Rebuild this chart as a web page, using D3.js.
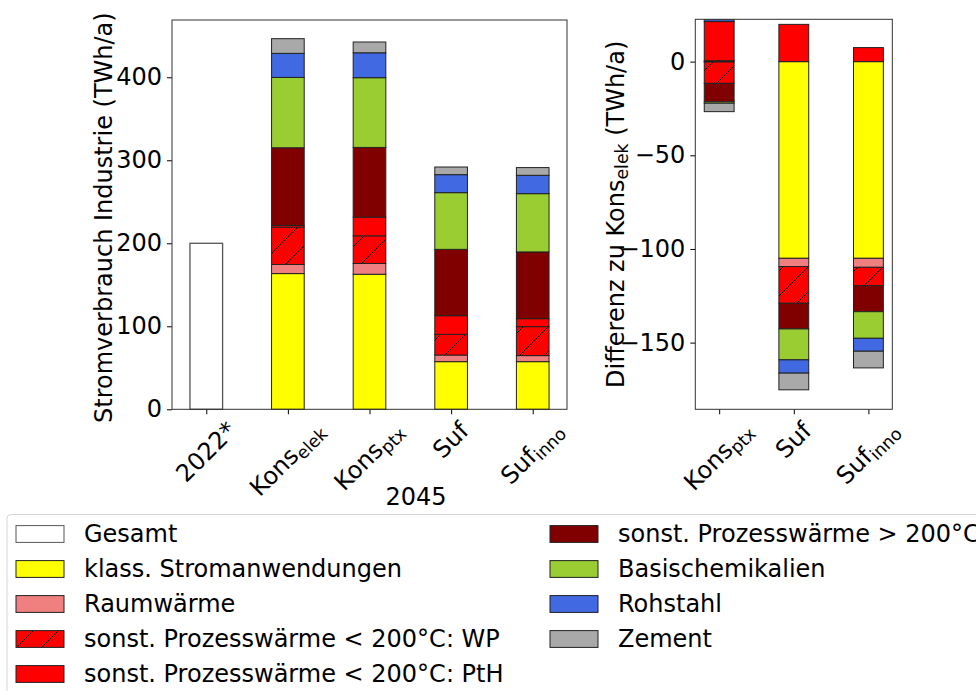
<!DOCTYPE html>
<html>
<head>
<meta charset="utf-8">
<script src="https://cdn.jsdelivr.net/npm/d3@7"></script>
<style>
  body { margin: 0; background: #fff; }
  text { font-family: "DejaVu Sans", sans-serif; fill: #000; }
</style>
</head>
<body>
<svg id="chart" width="976" height="691"></svg>
<script>
// categories (stack order, bottom to top)
const segments = ["klass", "raum", "wp", "pth", "gt200", "chem", "stahl", "zement"];
const segmentNames = [
  "klass. Stromanwendungen",
  "Raumwärme",
  "sonst. Prozesswärme < 200°C: WP",
  "sonst. Prozesswärme < 200°C: PtH",
  "sonst. Prozesswärme > 200°C",
  "Basischemikalien",
  "Rohstahl",
  "Zement"
];
const segmentColors = ["#ffff00", "#f08080", "#ff0000", "#ff0000", "#800000", "#9acd32", "#4169e1", "#a9a9a9"];

// scenarios 2045
const scenarios = [
  {main: "Kons", sub: "elek"},
  {main: "Kons", sub: "ptx"},
  {main: "Suf", sub: null},
  {main: "Suf", sub: "inno"}
];
const gesamt2022 = 200;

// TWh/a per scenario (Kons_elek, Kons_ptx, Suf, Suf_inno)
const klass  = [163.5, 162.7, 57.4, 57.4];
const raum   = [11.0, 13.0, 8.0, 7.3];
const wp     = [45.0, 33.3, 24.9, 34.9];
const pth    = [2.0, 22.5, 22.5, 9.6];
const gt200  = [93.6, 84.0, 79.9, 80.4];
const chem   = [84.7, 84.0, 68.3, 70.2];
const stahl  = [29.0, 30.0, 21.7, 22.1];
const zement = [17.7, 13.0, 9.2, 9.3];

// difference to Kons_elek (Kons_ptx, Suf, Suf_inno)
const diffScenarios = [scenarios[1], scenarios[2], scenarios[3]];
const dKlass  = [-0.2, -105.0, -105.0];
const dRaum   = [0.5, -4.4, -4.8];
const dWp     = [-11.4, -19.6, -9.8];
const dPth    = [20.9, 19.9, 7.5];
const dGt200  = [-9.8, -13.7, -13.9];
const dChem   = [-0.8, -16.5, -14.2];
const dStahl  = [1.0, -7.1, -6.9];
const dZement = [-4.5, -8.9, -8.9];

const leftTicks = [0, 100, 200, 300, 400];
const rightTicks = [0, -50, -100, -150];

const FS = 24;
const svg = d3.select("#chart");
const color = d3.scaleOrdinal().domain(segments).range(segmentColors);
const fillOf = k => k === "wp" ? "url(#hatch)" : color(k);

const defs = svg.append("defs");
const pat = defs.append("pattern")
  .attr("id", "hatch")
  .attr("patternUnits", "userSpaceOnUse")
  .attr("width", 25).attr("height", 25);
pat.append("rect").attr("width", 25).attr("height", 25).attr("fill", "#ff0000");
pat.append("path")
  .attr("d", "M-5,5L5,-5M0,25L25,0M20,30L30,20")
  .attr("stroke", "#000").attr("stroke-width", 1);

// helper for labels with subscript
function labelText(sel, lab, size) {
  const t = sel.append("text").attr("font-size", size);
  t.append("tspan").text(lab.main);
  if (lab.sub) {
    t.append("tspan").attr("font-size", size * 0.72).attr("dy", size * 0.18).text(lab.sub);
  }
  return t;
}

function rotatedLabel(g, x, top, lab) {
  const gg = g.append("g");
  const t = labelText(gg, lab, FS);
  const bb = t.node().getBBox();
  t.attr("transform", `translate(${-bb.x - bb.width / 2},${-bb.y - bb.height / 2})`);
  const h = (bb.width + bb.height) / Math.SQRT2;
  gg.attr("transform", `translate(${x},${top + h / 2}) rotate(-45)`);
}

// ---------- left panel ----------
const L = {x0: 172, x1: 567, y0: 20, y1: 409.3};
const xL = d3.scaleLinear().domain([-0.42, 4.42]).range([L.x0, L.x1]);
const yL = d3.scaleLinear().domain([0, 469]).range([L.y1, L.y0]);

const rowsL = scenarios.map((s, i) => ({
  idx: i + 1,
  klass: klass[i], raum: raum[i], wp: wp[i], pth: pth[i],
  gt200: gt200[i], chem: chem[i], stahl: stahl[i], zement: zement[i]
}));
const stackL = d3.stack().keys(segments)(rowsL);

const gL = svg.append("g");
gL.append("rect")
  .attr("x", xL(-0.2)).attr("width", xL(0.2) - xL(-0.2))
  .attr("y", yL(gesamt2022)).attr("height", yL(0) - yL(gesamt2022))
  .attr("fill", "#fff").attr("stroke", "#555").attr("stroke-width", 1.3);

gL.selectAll("g.layer")
  .data(stackL)
  .join("g")
  .attr("class", "layer")
  .attr("fill", d => fillOf(d.key))
  .selectAll("rect")
  .data(d => d)
  .join("rect")
    .attr("x", d => xL(d.data.idx - 0.2))
    .attr("width", d => xL(d.data.idx + 0.2) - xL(d.data.idx - 0.2))
    .attr("y", d => yL(d[1]))
    .attr("height", d => yL(d[0]) - yL(d[1]))
    .attr("stroke", "#222").attr("stroke-width", 1);

const axL = gL.append("g")
  .attr("transform", `translate(${L.x0},0)`)
  .call(d3.axisLeft(yL).tickValues(leftTicks).tickSize(5).tickPadding(5));
axL.select(".domain").remove();
axL.selectAll("text").attr("font-size", FS).attr("font-family", "DejaVu Sans").attr("fill", "#000");

const axLb = gL.append("g")
  .attr("transform", `translate(0,${L.y1})`)
  .call(d3.axisBottom(xL).tickValues([0, 1, 2, 3, 4]).tickSize(5).tickFormat(""));
axLb.select(".domain").remove();

gL.append("rect")
  .attr("x", L.x0).attr("y", L.y0)
  .attr("width", L.x1 - L.x0).attr("height", L.y1 - L.y0)
  .attr("fill", "none").attr("stroke", "#333").attr("stroke-width", 1);

const leftLabels = [{main: "2022*", sub: null}].concat(scenarios);
leftLabels.forEach((lab, i) => rotatedLabel(gL, xL(i), L.y1 + 7, lab));

gL.append("text")
  .attr("x", 416).attr("y", 505)
  .attr("text-anchor", "middle").attr("font-size", FS)
  .text("2045");

gL.append("text")
  .attr("transform", `translate(112,${(L.y0 + L.y1) / 2 + 3}) rotate(-90)`)
  .attr("text-anchor", "middle").attr("font-size", FS)
  .text("Stromverbrauch Industrie (TWh/a)");

// ---------- right panel ----------
const R = {x0: 695.3, x1: 892.3, y0: 19.3, y1: 409.3};
const xR = d3.scaleLinear().domain([-0.32, 2.32]).range([R.x0, R.x1]);
const yR = d3.scaleLinear().domain([-185.6, 22.6]).range([R.y1, R.y0]);

const rowsR = diffScenarios.map((s, i) => ({
  idx: i,
  klass: dKlass[i], raum: dRaum[i], wp: dWp[i], pth: dPth[i],
  gt200: dGt200[i], chem: dChem[i], stahl: dStahl[i], zement: dZement[i]
}));
const stackR = d3.stack().keys(segments).offset(d3.stackOffsetDiverging)(rowsR);

defs.append("clipPath").attr("id", "clipR")
  .append("rect")
  .attr("x", R.x0).attr("y", R.y0)
  .attr("width", R.x1 - R.x0).attr("height", R.y1 - R.y0);

const gR = svg.append("g");
gR.append("g")
  .attr("clip-path", "url(#clipR)")
  .selectAll("g.layer")
  .data(stackR)
  .join("g")
  .attr("class", "layer")
  .attr("fill", d => fillOf(d.key))
  .selectAll("rect")
  .data(d => d.filter(v => v[1] !== v[0]))
  .join("rect")
    .attr("x", d => xR(d.data.idx - 0.2))
    .attr("width", d => xR(d.data.idx + 0.2) - xR(d.data.idx - 0.2))
    .attr("y", d => yR(Math.max(d[0], d[1])))
    .attr("height", d => Math.abs(yR(d[0]) - yR(d[1])))
    .attr("stroke", "#222").attr("stroke-width", 1);

const axR = gR.append("g")
  .attr("transform", `translate(${R.x0},0)`)
  .call(d3.axisLeft(yR).tickValues(rightTicks).tickSize(5).tickPadding(5)
    .tickFormat(d => d3.format("d")(d).replace("-", "\u2212")));
axR.select(".domain").remove();
axR.selectAll("text").attr("font-size", FS).attr("font-family", "DejaVu Sans").attr("fill", "#000");

const axRb = gR.append("g")
  .attr("transform", `translate(0,${R.y1})`)
  .call(d3.axisBottom(xR).tickValues([0, 1, 2]).tickSize(5).tickFormat(""));
axRb.select(".domain").remove();

gR.append("rect")
  .attr("x", R.x0).attr("y", R.y0)
  .attr("width", R.x1 - R.x0).attr("height", R.y1 - R.y0)
  .attr("fill", "none").attr("stroke", "#333").attr("stroke-width", 1);

diffScenarios.forEach((lab, i) => rotatedLabel(gR, xR(i), R.y1 + 7, lab));

const rLab = gR.append("text")
  .attr("transform", `translate(624,${(R.y0 + R.y1) / 2}) rotate(-90)`)
  .attr("text-anchor", "middle").attr("font-size", FS);
rLab.append("tspan").text("Differenz zu Kons");
rLab.append("tspan").attr("font-size", FS * 0.72).attr("dy", FS * 0.18).text("elek");
rLab.append("tspan").attr("dy", -FS * 0.18).text(" (TWh/a)");

// ---------- legend ----------
const legendCol1 = [{name: "Gesamt", fill: "#fff", stroke: "#555"}]
  .concat(segments.slice(0, 4).map((k, i) => ({name: segmentNames[i], fill: fillOf(k), stroke: "#222"})));
const legendCol2 = segments.slice(4).map((k, i) => ({name: segmentNames[i + 4], fill: fillOf(k), stroke: "#222"}));

const lg = svg.append("g");
lg.append("rect")
  .attr("x", 7).attr("y", 514.5).attr("width", 1000).attr("height", 200)
  .attr("rx", 4).attr("fill", "#fff").attr("stroke", "#d6d6d6").attr("stroke-width", 1);

const legendCols = [{items: legendCol1, px: 16, tx: 84}, {items: legendCol2, px: 550, tx: 618}];
legendCols.forEach(col => {
  const rows = lg.append("g").selectAll("g")
    .data(col.items)
    .join("g")
    .attr("transform", (d, i) => `translate(0,${534 + i * 35})`);
  rows.append("rect")
    .attr("x", col.px).attr("y", -8.4).attr("width", 48).attr("height", 16.8)
    .attr("fill", d => d.fill).attr("stroke", d => d.stroke).attr("stroke-width", 1);
  rows.append("text")
    .attr("x", col.tx).attr("dy", "0.33em")
    .attr("font-size", FS)
    .text(d => d.name);
});
</script>
</body>
</html>
